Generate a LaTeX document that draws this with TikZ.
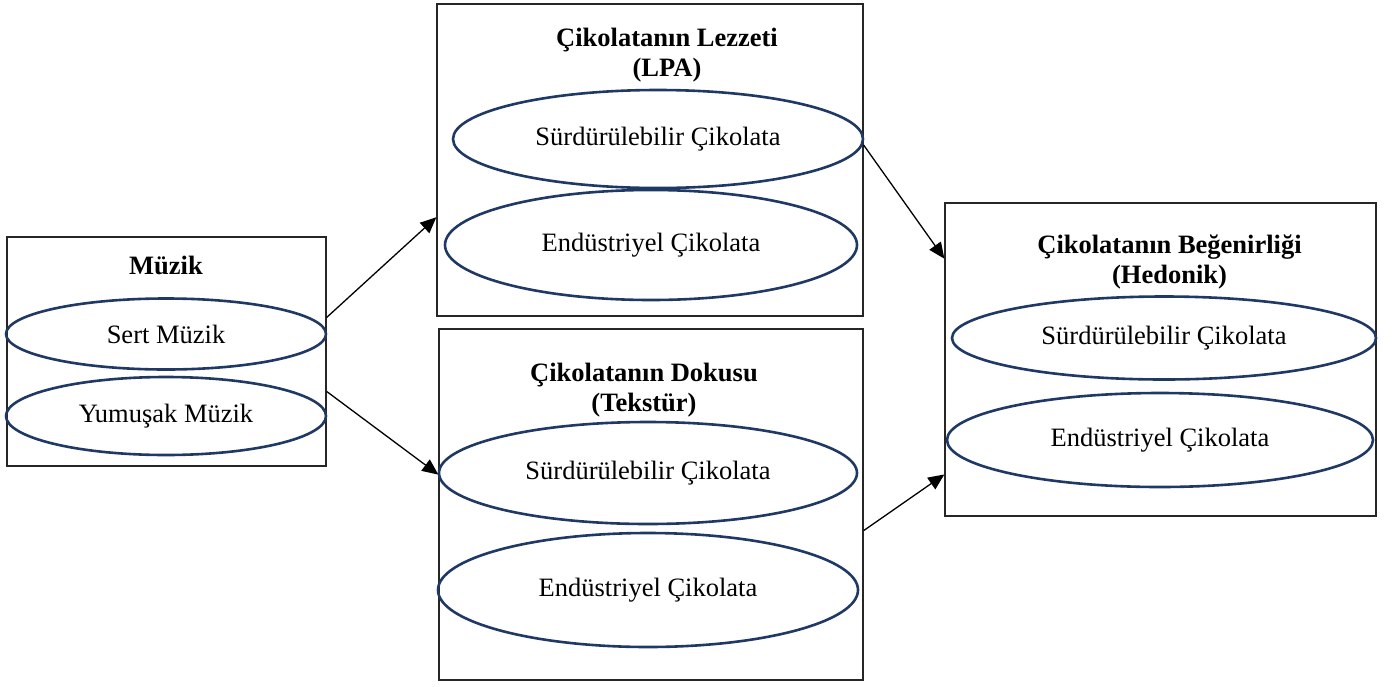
\documentclass[tikz,border=0pt]{standalone}
\usepackage{fontspec}
\setmainfont{Liberation Serif}
\usetikzlibrary{shapes.geometric, arrows.meta}
\definecolor{ovalblue}{RGB}{31,56,100}

\begin{document}
\begin{tikzpicture}[x=1pt, y=-1pt, font=\fontsize{26.5}{30}\selectfont,
		box/.style={draw=black!85, line width=1.3pt, rectangle, inner sep=0},
		oval/.style={draw=ovalblue, line width=2.6pt, ellipse, inner sep=0},
		title/.style={font=\fontsize{26.5}{30}\selectfont\bfseries, align=center, inner sep=0},
		link/.style={-{Triangle[length=16pt, width=14pt]}, line width=1.3pt}]
		\useasboundingbox (0,0) rectangle (1395,686);
		
		\begin{scope}[every node/.style={box}]
		\node[minimum width=319pt, minimum height=229pt] (muzik) at (166.5,351.5) {};
		\node[minimum width=426pt, minimum height=312pt] (lpa) at (650,160) {};
		\node[minimum width=424pt, minimum height=351pt] (doku) at (651,504.5) {};
		\node[minimum width=431pt, minimum height=313pt] (hedo) at (1160.5,359.5) {};
		\end{scope}
		
		\node[title] (muzikT) at (166,265) {Müzik};
		\node[title] (lpaT) at (667,55) {Çikolatanın Lezzeti\\(LPA)};
		\node[title] (dokuT) at (644,390) {Çikolatanın Dokusu\\(Tekstür)};
		\node[title] (hedoT) at (1169.5,262) {Çikolatanın Beğenirliği\\(Hedonik)};
		
		\begin{scope}[every node/.style={oval}]
		\node[minimum width=320pt, minimum height=71pt] (sert) at (166,334) {Sert Müzik};
		\node[minimum width=320pt, minimum height=78pt] (yumu) at (166,416) {Yumuşak Müzik};
		\node[minimum width=410pt, minimum height=98pt] (lpa1) at (658,139) {Sürdürülebilir Çikolata};
		\node[minimum width=412pt, minimum height=110pt] (lpa2) at (651,245) {Endüstriyel Çikolata};
		\node[minimum width=418pt, minimum height=102pt] (doku1) at (648,473) {Sürdürülebilir Çikolata};
		\node[minimum width=420pt, minimum height=114pt] (doku2) at (648,590) {Endüstriyel Çikolata};
		\node[minimum width=424pt, minimum height=83pt] (hedo1) at (1164,338) {Sürdürülebilir Çikolata};
		\node[minimum width=426pt, minimum height=94pt] (hedo2) at (1160,440) {Endüstriyel Çikolata};
		\end{scope}
		
		\draw[link] (muzik.12.5) -- (lpa.195.5);
		\draw[link] (muzik.-14.6) -- (doku.172.9);
		\draw[link] (lpa.4) -- (hedo.155.2);
		\draw[link] (doku.-7.1) -- (hedo.208.6);
		
		\end{tikzpicture}
\end{document}
